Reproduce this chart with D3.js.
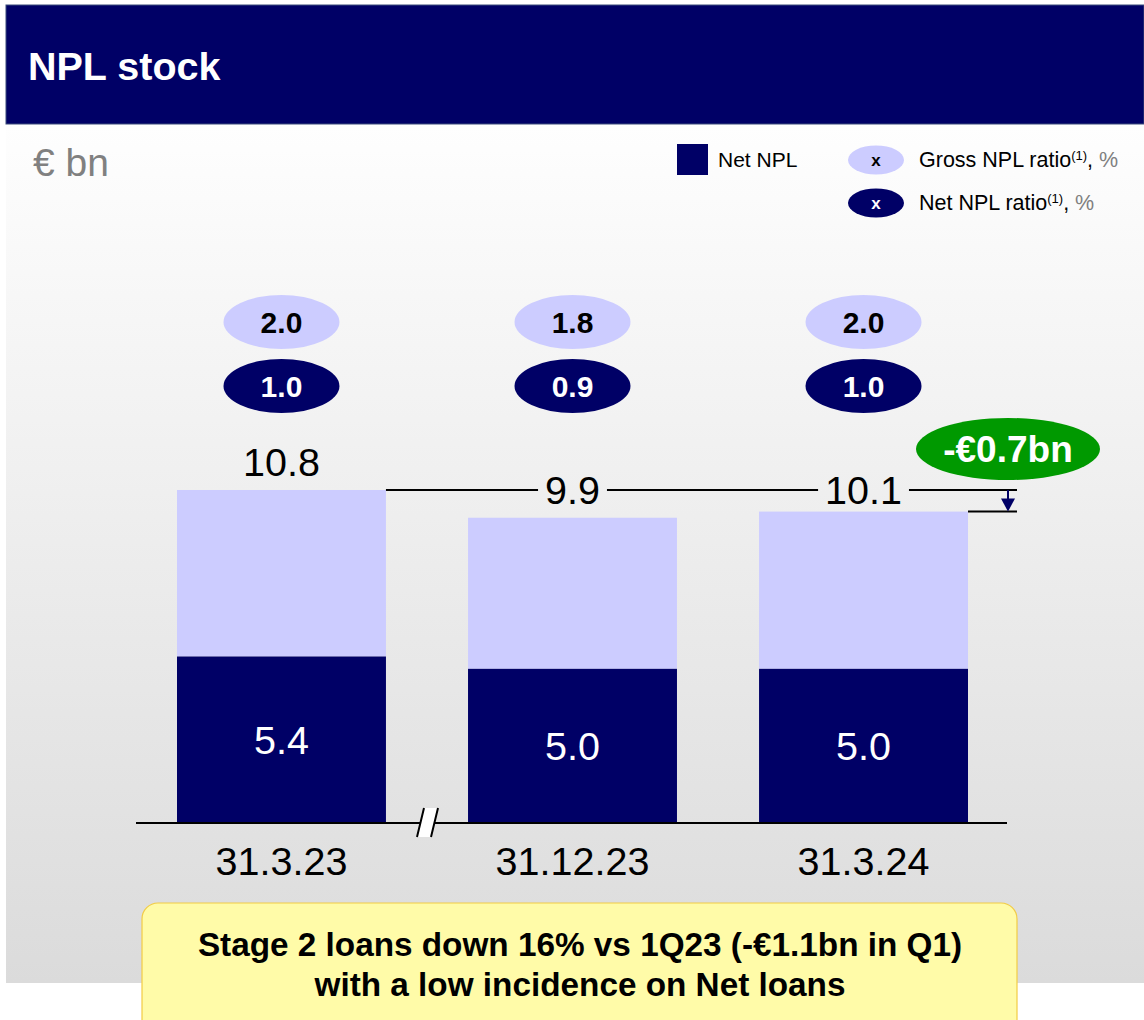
<!DOCTYPE html>
<html>
<head>
<meta charset="utf-8">
<script src="https://cdn.jsdelivr.net/npm/d3@7"></script>
<style>
  html, body { margin: 0; padding: 0; background: #ffffff; }
  svg { display: block; font-family: "Liberation Sans", Arial, sans-serif; }
</style>
</head>
<body>
<svg id="chart" width="1144" height="1020"></svg>
<script>
// NPL stock, € bn
const categories = ["31.3.23", "31.12.23", "31.3.24"];
const grossNpl = [10.8, 9.9, 10.1];
const netNpl = [5.4, 5.0, 5.0];
const grossRatio = ["2.0", "1.8", "2.0"];
const netRatio = ["1.0", "0.9", "1.0"];
const deltaLabel = "-€0.7bn";
const noteLines = ["Stage 2 loans down 16% vs 1Q23 (-€1.1bn in Q1)", "with a low incidence on Net loans"];

const NAVY = "#000066", LILAC = "#ccccff", GREEN = "#009900";

const svg = d3.select("#chart");

// background gradient of the panel
const defs = svg.append("defs");
const grad = defs.append("linearGradient").attr("id", "panelGrad")
  .attr("x1", 0).attr("y1", 0).attr("x2", 0).attr("y2", 1);
grad.append("stop").attr("offset", "0%").attr("stop-color", "#fefefe");
grad.append("stop").attr("offset", "100%").attr("stop-color", "#dbdbdb");

svg.append("rect").attr("x", 6).attr("y", 124).attr("width", 1138).attr("height", 859)
  .attr("fill", "url(#panelGrad)");

// title band
svg.append("rect").attr("x", 6).attr("y", 5).attr("width", 1138).attr("height", 119)
  .attr("fill", NAVY).attr("stroke", "#3a4a7a").attr("stroke-width", 1);
svg.append("text").attr("x", 28).attr("y", 80).attr("fill", "#fff")
  .attr("font-size", 39.5).attr("font-weight", "bold").text("NPL stock");

svg.append("text").attr("x", 33).attr("y", 176).attr("fill", "#808080")
  .attr("font-size", 39).text("€ bn");

// legend
const lg = svg.append("g");
lg.append("rect").attr("x", 677).attr("y", 144).attr("width", 31).attr("height", 31).attr("fill", NAVY);
lg.append("text").attr("x", 718).attr("y", 167).attr("font-size", 21).attr("fill", "#000").text("Net NPL");
const legendRows = [
  { cy: 160, fill: LILAC, tx: "#000", label: "Gross NPL ratio" },
  { cy: 203, fill: NAVY, tx: "#fff", label: "Net NPL ratio" }
];
legendRows.forEach(r => {
  lg.append("ellipse").attr("cx", 876).attr("cy", r.cy).attr("rx", 28).attr("ry", 14.5).attr("fill", r.fill);
  lg.append("text").attr("x", 876).attr("y", r.cy + 6).attr("text-anchor", "middle")
    .attr("font-size", 17).attr("font-weight", "bold").attr("fill", r.tx).text("x");
  const t = lg.append("text").attr("x", 919).attr("y", r.cy + 7).attr("font-size", 21.5).attr("fill", "#000");
  t.append("tspan").text(r.label);
  t.append("tspan").attr("font-size", 13).attr("dy", -7).text("(1)");
  t.append("tspan").attr("dy", 7).text(", ");
  t.append("tspan").attr("fill", "#808080").text("%");
});

// scales
const x = d3.scaleBand().domain(categories).range([177, 968]).paddingInner(0.282).paddingOuter(0);
const y = d3.scaleLinear().domain([0, 10.8]).range([823, 490]);

const rows = categories.map((c, i) => ({ c, gross: grossNpl[i], net: netNpl[i], gr: grossRatio[i], nr: netRatio[i], i }));

// bars: gross stock (light) with net stock (navy) at the base
svg.append("g").selectAll("rect").data(rows).join("rect")
  .attr("x", d => x(d.c)).attr("width", x.bandwidth())
  .attr("y", d => y(d.gross)).attr("height", d => y(d.net) - y(d.gross))
  .attr("fill", LILAC);
svg.append("g").selectAll("rect").data(rows).join("rect")
  .attr("x", d => x(d.c)).attr("width", x.bandwidth())
  .attr("y", d => y(d.net)).attr("height", d => y(0) - y(d.net))
  .attr("fill", NAVY);

// net values inside the navy segments
svg.append("g").selectAll("text").data(rows).join("text")
  .attr("x", d => x(d.c) + x.bandwidth() / 2)
  .attr("y", d => (y(d.net) + y(0)) / 2 + 14)
  .attr("text-anchor", "middle").attr("font-size", 39.5).attr("fill", "#fff")
  .text(d => d.net.toFixed(1));

// ratio bubbles
const bub = svg.append("g");
rows.forEach(d => {
  const cx = x(d.c) + x.bandwidth() / 2;
  bub.append("ellipse").attr("cx", cx).attr("cy", 322).attr("rx", 58).attr("ry", 27).attr("fill", LILAC);
  bub.append("text").attr("x", cx).attr("y", 333).attr("text-anchor", "middle")
    .attr("font-size", 30).attr("font-weight", "bold").attr("fill", "#000").text(d.gr);
  bub.append("ellipse").attr("cx", cx).attr("cy", 386).attr("rx", 58).attr("ry", 27).attr("fill", NAVY);
  bub.append("text").attr("x", cx).attr("y", 397).attr("text-anchor", "middle")
    .attr("font-size", 30).attr("font-weight", "bold").attr("fill", "#fff").text(d.nr);
});

// total labels: first above its bar, others sitting on the reference line
const refY = y(grossNpl[0]);
const lineEnd = 1017;
const totals = svg.append("g");
totals.append("text").attr("x", x(categories[0]) + x.bandwidth() / 2).attr("y", y(grossNpl[0]) - 14)
  .attr("text-anchor", "middle").attr("font-size", 39.5).attr("fill", "#000").text(grossNpl[0].toFixed(1));

const gaps = [];
rows.slice(1).forEach(d => {
  const t = totals.append("text").attr("x", x(d.c) + x.bandwidth() / 2).attr("y", refY + 14)
    .attr("text-anchor", "middle").attr("font-size", 39.5).attr("fill", "#000").text(d.gross.toFixed(1));
  const bb = t.node().getBBox();
  gaps.push([bb.x - 7, bb.x + bb.width + 7]);
});

// reference line at the first period's total, broken around the labels
let start = x(categories[0]) + x.bandwidth();
const segs = [];
gaps.forEach(g => { segs.push([start, g[0]]); start = g[1]; });
segs.push([start, lineEnd]);
svg.append("g").selectAll("line").data(segs).join("line")
  .attr("x1", d => d[0]).attr("x2", d => d[1]).attr("y1", refY).attr("y2", refY)
  .attr("stroke", "#000").attr("stroke-width", 2);

// line at the latest total and the down arrow between them
const lastY = y(grossNpl[2]);
svg.append("line").attr("x1", x(categories[2]) + x.bandwidth()).attr("x2", lineEnd)
  .attr("y1", lastY).attr("y2", lastY).attr("stroke", "#000").attr("stroke-width", 2);
const ax = 1008;
svg.append("line").attr("x1", ax).attr("x2", ax).attr("y1", refY).attr("y2", lastY - 10)
  .attr("stroke", NAVY).attr("stroke-width", 2);
svg.append("path").attr("d", `M${ax - 7},${lastY - 13} L${ax + 7},${lastY - 13} L${ax},${lastY} Z`).attr("fill", NAVY);

// delta bubble
svg.append("ellipse").attr("cx", 1008).attr("cy", 449).attr("rx", 92).attr("ry", 31).attr("fill", GREEN);
svg.append("text").attr("x", 1008).attr("y", 462).attr("text-anchor", "middle")
  .attr("font-size", 37).attr("font-weight", "bold").attr("fill", "#fff").text(deltaLabel);

// baseline with axis break
svg.append("line").attr("x1", 136).attr("x2", 1007).attr("y1", y(0)).attr("y2", y(0))
  .attr("stroke", "#000").attr("stroke-width", 2);
svg.append("path").attr("d", "M417,837 L424,808 L438,808 L431,837 Z").attr("fill", "#fff");
svg.append("path").attr("d", "M417,837 L424,808 M431,837 L438,808").attr("stroke", "#000").attr("stroke-width", 2);

// category labels
svg.append("g").selectAll("text").data(rows).join("text")
  .attr("x", d => x(d.c) + x.bandwidth() / 2).attr("y", 875)
  .attr("text-anchor", "middle").attr("font-size", 39.5).attr("fill", "#000")
  .text(d => d.c);

// note box
svg.append("rect").attr("x", 142).attr("y", 903).attr("width", 875).attr("height", 140).attr("rx", 16)
  .attr("fill", "#fffba8").attr("stroke", "#f2cc45").attr("stroke-width", 1.2);
svg.append("g").selectAll("text").data(noteLines).join("text")
  .attr("x", 580).attr("y", (d, i) => 956 + i * 40)
  .attr("text-anchor", "middle").attr("font-size", 33.3).attr("font-weight", "bold").attr("fill", "#000")
  .text(d => d);
</script>
</body>
</html>
